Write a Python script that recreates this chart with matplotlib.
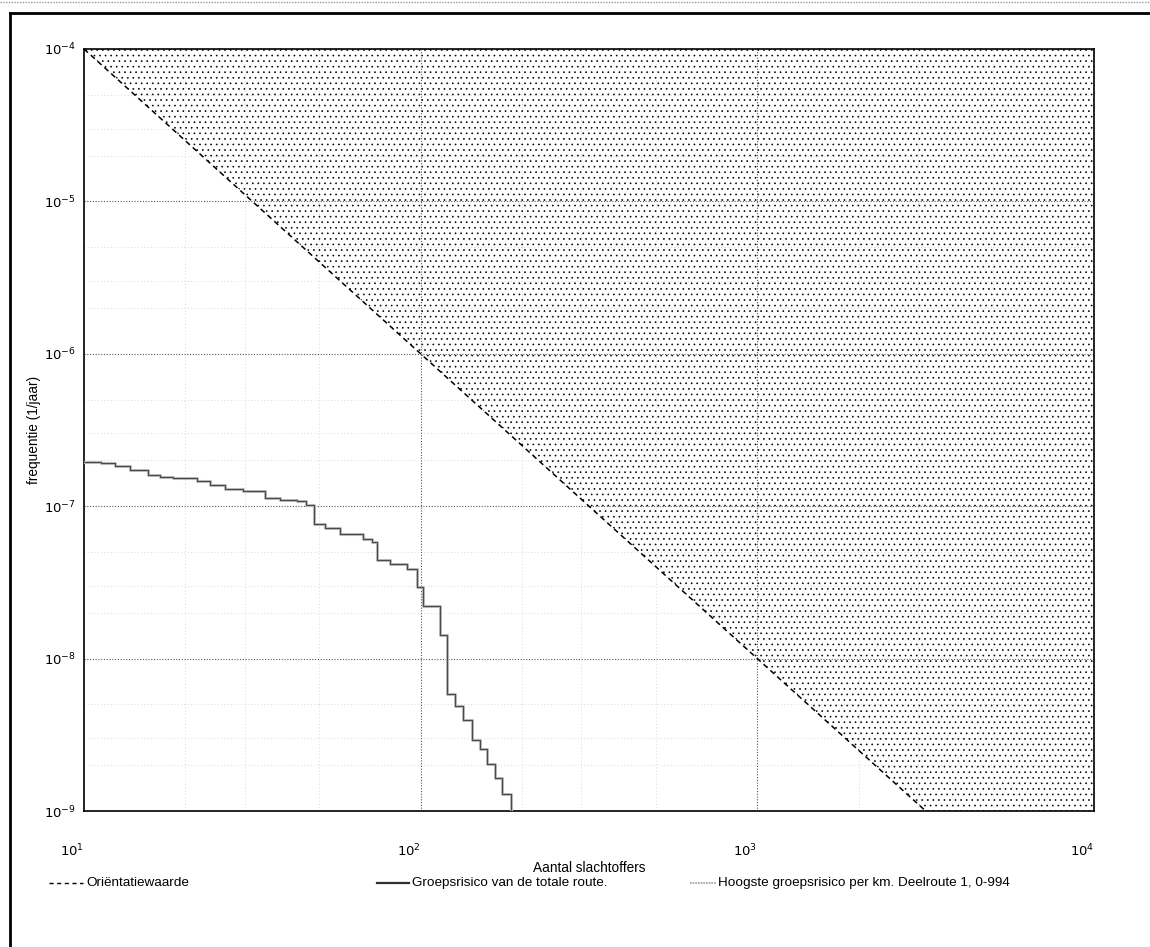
import numpy as np
import matplotlib
matplotlib.use("Agg")
import matplotlib.pyplot as plt
from matplotlib.lines import Line2D

plt.rcParams['font.family'] = ['Liberation Sans', 'DejaVu Sans']
plt.rcParams['hatch.color'] = '#c4c4c4'
plt.rcParams['hatch.linewidth'] = 0.45

# orientatiewaarde (1e-2 / N^2)
orient_N = [10, 10000]
orient_f = [1e-4, 1e-10]

# groepsrisico (FN-curve)
gr_N = [10, 11.2, 12.4, 13.7, 15.5, 16.8, 18.4, 21.7, 23.7, 26.2, 29.7, 34.5,
        38.2, 42.9, 45.6, 48.2, 52.0, 57.6, 67.3, 71.6, 74.0, 81.2, 90.9, 97.3,
        101.8, 114.1, 119.4, 126.5, 133.8, 141.8, 150, 157, 166.3, 174, 185]
gr_f = [1.95e-7, 1.91e-7, 1.83e-7, 1.72e-7, 1.60e-7, 1.55e-7, 1.53e-7, 1.47e-7,
        1.38e-7, 1.30e-7, 1.26e-7, 1.13e-7, 1.10e-7, 1.08e-7, 1.02e-7, 7.6e-8,
        7.16e-8, 6.6e-8, 6.12e-8, 5.85e-8, 4.41e-8, 4.2e-8, 3.89e-8, 2.94e-8,
        2.2e-8, 1.42e-8, 5.87e-9, 4.92e-9, 3.96e-9, 2.93e-9, 2.55e-9, 2.04e-9,
        1.65e-9, 1.29e-9, 5e-10]

labels = ['Oriëntatiewaarde', 'Groepsrisico van de totale route.',
          'Hoogste groepsrisico per km. Deelroute 1, 0-994']

fig = plt.figure(figsize=(11.5, 9.47), dpi=100)
ax = fig.add_axes([84/1150, 1-811/947, 1010/1150, 762/947])

ax.set_xscale('log')
ax.set_yscale('log')
ax.set_xlim(10, 10000)
ax.set_ylim(1e-9, 1e-4)

# stippled region above the orientatiewaarde
ax.fill_between(orient_N, orient_f, 1e-4, facecolor='none', hatch='...',
                linewidth=0, zorder=1)

# grid
for x in [20, 30, 50, 200, 300, 500, 2000, 3000, 5000]:
    ax.axvline(x, color='#cccccc', ls=(0, (1, 3)), lw=0.6, zorder=0)
for d in [1e-9, 1e-8, 1e-7, 1e-6, 1e-5]:
    for m in [2, 3, 5]:
        ax.axhline(d*m, color='#cccccc', ls=(0, (1, 3)), lw=0.6, zorder=0)
for x in [100, 1000]:
    ax.axvline(x, color='#555555', ls=(0, (1, 1.5)), lw=0.8, zorder=2)
for y in [1e-8, 1e-7, 1e-6, 1e-5]:
    ax.axhline(y, color='#555555', ls=(0, (1, 1.5)), lw=0.8, zorder=2)

ax.plot(orient_N, orient_f, color='black', ls=(0, (3.5, 2.5)), lw=1.1, zorder=4)
ax.step(gr_N, gr_f, where='post', color='#bdbdbd', lw=2.2, zorder=3)
ax.step(gr_N, gr_f, where='post', color='#4a4a4a', lw=0.8, zorder=4)

ax.set_xticks([10, 100, 1000, 10000])
ax.set_xticklabels(['$10^{1}$', '$10^{2}$', '$10^{3}$', '$10^{4}$'], ha='right')
ax.set_yticks([1e-9, 1e-8, 1e-7, 1e-6, 1e-5, 1e-4])
ax.set_yticklabels(['$10^{-9}$', '$10^{-8}$', '$10^{-7}$', '$10^{-6}$',
                    '$10^{-5}$', '$10^{-4}$'])
ax.minorticks_off()
ax.tick_params(axis='both', length=0, labelsize=9.5)
ax.tick_params(axis='y', pad=6)
ax.tick_params(axis='x', pad=23)
for s in ax.spines.values():
    s.set_linewidth(1.2)

ax.set_xlabel('Aantal slachtoffers', fontsize=9.8, va='center')
ax.xaxis.set_label_coords(0.5, (811 - 868) / 762)
ax.set_ylabel('frequentie (1/jaar)', fontsize=9.8, labelpad=2)

# legend row under the axes
ly = 1 - 883/947
fig.add_artist(Line2D([49/1150, 83/1150], [ly, ly], color='black',
                      ls=(0, (3, 2.5)), lw=1.0, transform=fig.transFigure))
fig.text(86/1150, ly, labels[0], fontsize=9.7, va='center')
fig.add_artist(Line2D([377/1150, 409/1150], [ly, ly], color='#303030', lw=1.6,
                      transform=fig.transFigure))
fig.text(412/1150, ly, labels[1], fontsize=9.7, va='center')
fig.add_artist(Line2D([690/1150, 716/1150], [ly, ly], color='#9a9a9a', lw=1.2,
                      ls=(0, (1, 0.6)), transform=fig.transFigure))
fig.text(718/1150, ly, labels[2], fontsize=9.7, va='center')

# outer frame of the scanned page
fig.add_artist(Line2D([10/1150, 10/1150], [0, 1-13/947], color='black', lw=2,
                      transform=fig.transFigure))
fig.add_artist(Line2D([10/1150, 1], [1-13/947, 1-13/947], color='black', lw=2,
                      transform=fig.transFigure))
fig.add_artist(Line2D([0, 1], [1-2/947, 1-2/947], color='#999999', lw=1,
                      ls=(0, (1, 1)), transform=fig.transFigure))

fig.savefig('out.png', dpi=100)
